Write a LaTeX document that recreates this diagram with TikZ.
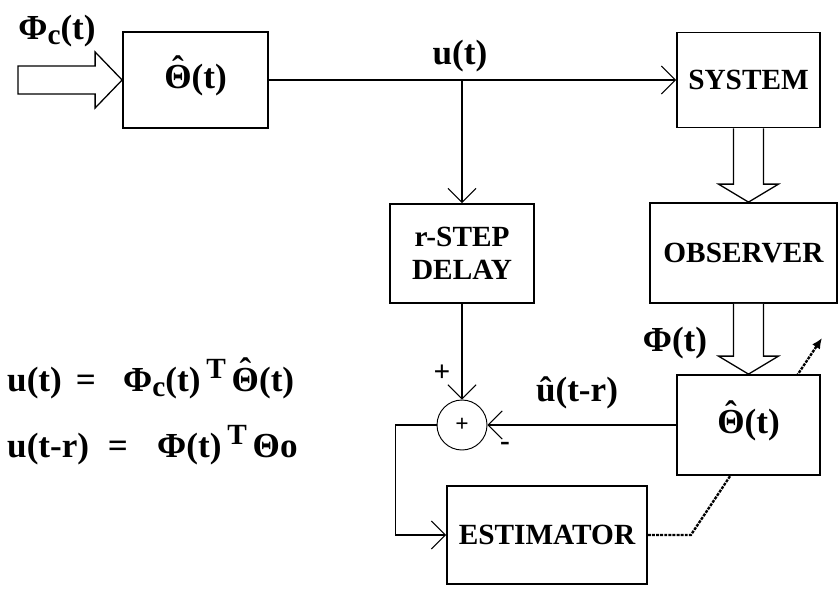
\documentclass[tikz,border=0pt]{standalone}
\usepackage{fontspec}
\setmainfont{Liberation Serif}
\usetikzlibrary{arrows.meta,calc}
\newcommand{\boxfont}{\fontsize{25}{28}\selectfont\bfseries}
\newcommand{\mathfont}{\fontsize{30}{34}\selectfont\bfseries}
\newcommand{\lowc}{\raisebox{-0.35ex}{\fontsize{25}{25}\selectfont c}}
\newcommand{\upT}{\raisebox{0.75ex}{\fontsize{25}{25}\selectfont T}}
\newcommand{\hatTheta}{\leavevmode\ooalign{Θ\cr\hidewidth\raisebox{0.24em}{ˆ}\hidewidth\cr}}
\tikzset{
  block/.style={draw, line width=1.5pt, fill=white, align=center,
    inner sep=2pt, font=\boxfont},
  mathblock/.style={block, font=\mathfont},
  sumnode/.style={circle, draw, line width=0.8pt, fill=white,
    minimum size=1.5cm, inner sep=0pt, font=\fontsize{20}{20}\selectfont\bfseries},
  signal/.style={-{Straight Barb[length=12pt,width=24pt,line width=0.9pt]},
    line width=0.9pt},
  wide/.style={draw, line width=1.1pt, fill=white, line join=miter},
  tuning/.style={dash pattern=on 2.5pt off 1pt, line width=2pt,
    -{Latex[length=9pt,width=8pt]}},
  lbl/.style={font=\mathfont, inner sep=0pt, anchor=base},
  signlbl/.style={font=\boxfont, inner sep=0pt}
}
% hollow (double line) arrow pointing down, from #1 to tip #2
\newcommand{\hollowdown}[2]{%
  \draw[wide] ($(#1)+(-15,0)$) -- ($(#2)+(-15,-18)$) -- ($(#2)+(-30,-18)$)
    -- (#2) -- ($(#2)+(30,-18)$) -- ($(#2)+(15,-18)$) -- ($(#1)+(15,0)$);}
\begin{document}
\begin{tikzpicture}[x=0.03cm,y=-0.03cm]
  \useasboundingbox (0,0) rectangle (839,589);

  \node[mathblock, minimum width=4.35cm, minimum height=2.88cm] (ctrl)
    at (195.5,80) {\hatTheta(t)};
  \node[block, minimum width=4.29cm, minimum height=2.85cm] (sys)
    at (748.5,80) {SYSTEM};
  \node[block, minimum width=5.61cm, minimum height=3.0cm] (obs)
    at (743.5,253) {OBSERVER};
  \node[block, minimum width=4.32cm, minimum height=2.97cm] (delay)
    at (462,253.5) {r-STEP\\DELAY};
  \node[sumnode] (sum) at (462,425) {+};
  \node[block, minimum width=6.0cm, minimum height=2.94cm] (estim)
    at (547,535) {ESTIMATOR};

  % parameter tuning line, passes behind the estimate block
  \coordinate (tune) at (822,338);
  \draw[tuning] (estim.east) -- ++(43,0) -- (tune);
  \node[mathblock, minimum width=4.29cm, minimum height=3.0cm] (thetaest)
    at (748.5,425) {\hatTheta(t)};

  % input regressor arrow
  \coordinate (phic) at (18,80);
  \draw[wide] ($(phic)+(0,-14)$) -- ($(ctrl.west)+(-27,-14)$)
    -- ($(ctrl.west)+(-27,-28)$) -- (ctrl.west) -- ($(ctrl.west)+(-27,28)$)
    -- ($(ctrl.west)+(-27,14)$) -- ($(phic)+(0,14)$) -- cycle;
  \node[lbl] (phiclbl) at (57,39) {Φ\lowc(t)};

  \draw[signal] (ctrl.east) -- (sys.west);
  \coordinate (tap) at (delay.north |- ctrl.east);
  \node[lbl] (ulbl) at (460,64) {u(t)};
  \draw[signal] (tap) -- (delay.north);

  \hollowdown{sys.south}{sys.south |- obs.north}
  \hollowdown{thetaest.north |- obs.south}{thetaest.north}
  \node[lbl] (philbl) at (675,351) {Φ(t)};

  \draw[signal] (delay.south) -- (sum.north);
  \draw[signal] (thetaest.west) -- (sum.east);
  \node[signlbl] (plus) at (442,373) {+};
  \node[signlbl] (minus) at (505,446) {-};
  \node[lbl] (uhatlbl) at (577,401) {\^{u}(t-r)};
  \draw[signal] (sum.west) -- ++(-41,0) |- (estim.west);

  % equations
  \node[lbl, anchor=base west] (eqalhs) at (7,391) {u(t)};
  \node[lbl] (eqasign) at (86,391) {=};
  \node[lbl, anchor=base west] (eqarhs) at (123,391) {Φ\lowc(t)\,\upT\,\hatTheta(t)};
  \node[lbl, anchor=base west] (eqblhs) at (7,457) {u(t-r)};
  \node[lbl] (eqbsign) at (118,457) {=};
  \node[lbl, anchor=base west] (eqbrhs) at (157,457) {Φ(t)\,\upT\,Θo};
\end{tikzpicture}
\end{document}
